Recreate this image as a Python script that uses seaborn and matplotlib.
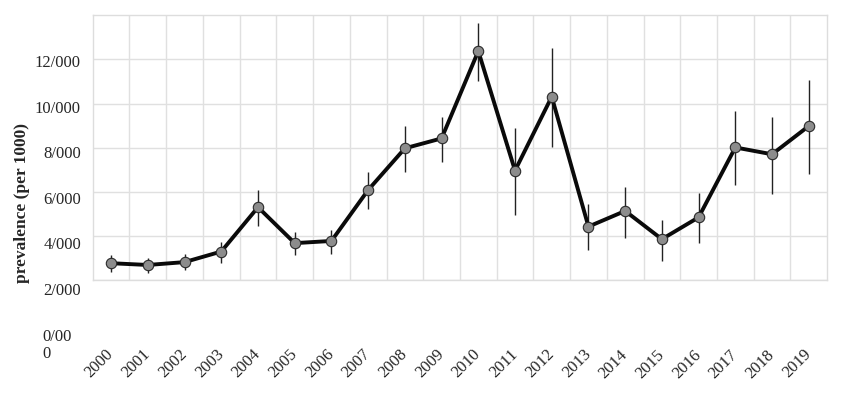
import numpy as np
import pandas as pd
import seaborn as sns
import matplotlib.pyplot as plt

years = [str(y) for y in range(2000, 2020)]
prevalence = [2.76, 2.68, 2.81, 3.29, 5.30, 3.67, 3.77, 6.08, 7.97, 8.42,
              12.38, 6.96, 10.31, 4.42, 5.13, 3.85, 4.84, 8.01, 7.70, 8.98]
ci_upper = [3.13, 3.01, 3.18, 3.71, 6.08, 4.16, 4.27, 6.88, 8.98, 9.40,
            13.66, 8.87, 12.54, 5.45, 6.20, 4.72, 5.93, 9.66, 9.40, 11.09]
ci_lower = [2.37, 2.33, 2.46, 2.79, 4.46, 3.11, 3.17, 5.22, 6.91, 7.36,
            11.03, 4.95, 8.04, 3.36, 3.92, 2.88, 3.69, 6.31, 5.90, 6.79]
y_ticks = [12, 10, 8, 6, 4, 2]
y_tick_labels = ["12/000", "10/000", "8/000", "6/000", "4/000", "2/000"]

df = pd.DataFrame({"pos": np.arange(len(years)), "year": years,
                   "prev": prevalence, "lo": ci_lower, "hi": ci_upper})

sns.set_style("white")
plt.rcParams["font.family"] = ["Liberation Serif", "DejaVu Serif"]

fig = plt.figure(figsize=(8.67, 4.04), dpi=100)
ax = fig.add_axes([0.107, 0.307, 0.847, 0.655])

# error bars
ax.vlines(df["pos"], df["lo"], df["hi"], color="#222222", lw=1, zorder=2)
sns.lineplot(data=df, x="pos", y="prev", ax=ax, color="#0a0a0a", lw=2.8,
             marker="o", markersize=7.5, markerfacecolor="#8c8c8c",
             markeredgecolor="#2a2a2a", markeredgewidth=0.8, zorder=3)

ax.set_xlim(-0.5, len(years) - 0.5)
ax.set_ylim(2, 14)
ax.set_xticks(df["pos"])
ax.set_xticks(df["pos"][:-1] + 0.5, minor=True)
ax.set_yticks(y_ticks)
ax.set_yticklabels([])
ax.grid(False)
ax.grid(True, which="minor", axis="x", color="#e0e0e0", lw=1)
ax.grid(True, which="major", axis="y", color="#e0e0e0", lw=1)
ax.tick_params(axis="both", which="both", length=0)
ax.set_xticklabels(years, rotation=45, ha="right", va="center",
                   rotation_mode="anchor", fontsize=12)
ax.tick_params(axis="x", pad=52)
for s in ax.spines.values():
    s.set_color("#dddddd")
    s.set_linewidth(1)
ax.set_xlabel("")
ax.set_ylabel("")

# y tick labels sit a little off the gridlines, as in the source figure
for v, lab in zip(y_ticks, y_tick_labels):
    yd = 11.83 - (12 - v) * 1.0326
    ax.annotate(lab, xy=(0, yd), xycoords=("axes fraction", "data"),
                xytext=(-8.5, 0), textcoords="offset points",
                ha="right", va="center", fontsize=12, annotation_clip=False)
ax.annotate("0/00\n0", xy=(0, 11.83 - 12 * 1.0326 - 0.4),
            xycoords=("axes fraction", "data"),
            xytext=(-36.5, 0), textcoords="offset points",
            ha="left", va="center", fontsize=12, linespacing=1.05,
            annotation_clip=False)

fig.text(22 / 867, 1 - 203 / 404, "prevalence (per 1000)", rotation=90,
         ha="center", va="center", fontsize=12.5, fontweight="bold")

fig.savefig("out.png", dpi=100)
